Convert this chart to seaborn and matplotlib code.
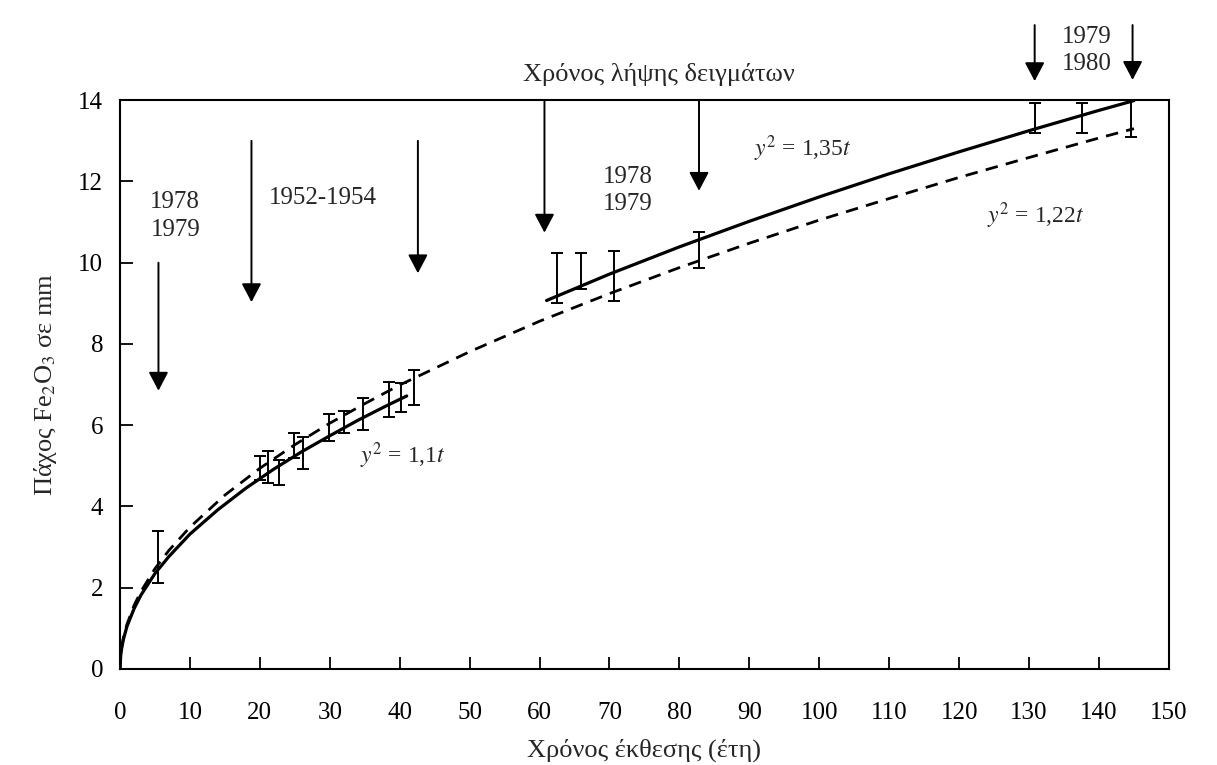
import numpy as np
import pandas as pd
import matplotlib
matplotlib.use("Agg")
import matplotlib.pyplot as plt
import seaborn as sns

# Curve y^2 = 1,1t (solid, early samples)
fit1_t = [0, 0.1, 0.25, 0.5, 1, 2, 3, 5, 7, 10, 14, 18, 22, 26, 30, 34, 38, 41]
fit1_y = [0, 0.33, 0.52, 0.74, 1.05, 1.48, 1.82, 2.35, 2.77, 3.32, 3.92, 4.45,
          4.92, 5.35, 5.74, 6.12, 6.47, 6.72]

# Curve y^2 = 1,22t (dashed, whole range)
fit2_t = [0, 0.1, 0.25, 0.5, 1, 2, 3, 5, 7, 10, 15, 20, 25, 30, 35, 40, 50, 60,
          70, 80, 90, 100, 110, 120, 130, 140, 145]
fit2_y = [0, 0.35, 0.55, 0.78, 1.10, 1.56, 1.91, 2.47, 2.92, 3.49, 4.28, 4.94,
          5.52, 6.05, 6.53, 6.99, 7.81, 8.56, 9.24, 9.88, 10.48, 11.05, 11.58,
          12.10, 12.59, 13.07, 13.30]

# Curve y^2 = 1,35t (solid, late samples)
fit3_t = [61, 70, 80, 90, 100, 110, 120, 130, 140, 145]
fit3_y = [9.07, 9.72, 10.39, 11.02, 11.62, 12.19, 12.73, 13.25, 13.75, 13.99]

# Measured ranges (error bars)
bar_t = [5.5, 20.0, 21.1, 22.8, 24.9, 26.2, 29.9, 32.1, 34.8, 38.5, 40.2, 42.0,
         62.5, 65.9, 70.7, 82.8, 130.8, 137.6, 144.6]
bar_lo = [2.11, 4.65, 4.59, 4.53, 5.19, 4.92, 5.62, 5.80, 5.88, 6.20, 6.33, 6.49,
          9.00, 9.35, 9.07, 9.88, 13.20, 13.20, 13.10]
bar_hi = [3.40, 5.24, 5.37, 5.14, 5.82, 5.72, 6.28, 6.36, 6.66, 7.06, 7.05, 7.35,
          10.25, 10.25, 10.30, 10.76, 13.93, 13.94, 14.32]

# Sampling-time arrows: x, start y, tip y
arrow_t = [5.5, 18.8, 42.6, 60.7, 82.8, 130.8, 144.8]
arrow_from = [10.0, 13.0, 13.0, 14.0, 14.0, 15.85, 15.85]
arrow_to = [6.85, 9.03, 9.74, 10.74, 11.77, 14.47, 14.5]

year_labels = ["1978\n1979", "1952-1954", "1978\n1979", "1979\n1980"]
year_pos = [(7.9, 11.15), (29.0, 11.6), (72.6, 11.77), (138.3, 15.22)]

eq_labels = [r"$y^2$ = 1,1$t$", r"$y^2$ = 1,35$t$", r"$y^2$ = 1,22$t$"]
eq_pos = [(40.4, 5.26), (97.7, 12.8), (131.0, 11.15)]

sns.set_theme(style="ticks")
plt.rcParams["font.family"] = ["Liberation Serif", "DejaVu Serif"]
plt.rcParams["mathtext.fontset"] = "stix"

fig = plt.figure(figsize=(12.17, 7.65), dpi=100)
ax = fig.add_axes([0.0986, 0.1255, 0.8619, 0.7435])

sns.lineplot(x=fit1_t, y=fit1_y, ax=ax, color="black", lw=2.3, sort=False)
sns.lineplot(x=fit2_t, y=fit2_y, ax=ax, color="black", lw=2.0, sort=False,
             linestyle=(0, (4.5, 3)))
sns.lineplot(x=fit3_t, y=fit3_y, ax=ax, color="black", lw=2.3, sort=False)

bars = pd.DataFrame({"t": bar_t, "lo": bar_lo, "hi": bar_hi})
mid = (bars.lo + bars.hi) / 2
ax.errorbar(bars.t, mid, yerr=[mid - bars.lo, bars.hi - mid], fmt="none",
            ecolor="black", elinewidth=1.4, capsize=4, capthick=1.4)

for x, y0, y1 in zip(arrow_t, arrow_from, arrow_to):
    ax.annotate("", xy=(x, y1), xytext=(x, y0), annotation_clip=False,
                arrowprops=dict(arrowstyle="-|>,head_length=0.95,head_width=0.5",
                                color="black", lw=1.4, shrinkA=0, shrinkB=0))

for txt, (x, y) in zip(year_labels, year_pos):
    ax.text(x, y, txt, ha="center", va="center", fontsize=18,
            linespacing=1.3, clip_on=False)

for txt, (x, y) in zip(eq_labels, eq_pos):
    ax.text(x, y, txt, ha="center", va="center", fontsize=17)

ax.text(77.0, 14.64, "Χρόνος λήψης δειγμάτων", ha="center", va="center",
        fontsize=19, clip_on=False)

ax.set_xlim(0, 150)
ax.set_ylim(0, 14)
ax.set_xticks(np.arange(0, 151, 10))
ax.set_yticks(np.arange(0, 15, 2))
ax.tick_params(axis="both", direction="in", length=9, width=1.3,
               labelsize=18, colors="black")
ax.tick_params(axis="x", pad=24)
ax.tick_params(axis="y", pad=12)
for s in ax.spines.values():
    s.set_linewidth(1.5)
    s.set_color("black")

ax.set_xlabel("Χρόνος έκθεσης (έτη)", fontsize=19, labelpad=10)
ax.set_ylabel("Πάχος Fe$_2$O$_3$ σε mm", fontsize=19, labelpad=14)

fig.savefig("out.png", dpi=100, facecolor="white")
